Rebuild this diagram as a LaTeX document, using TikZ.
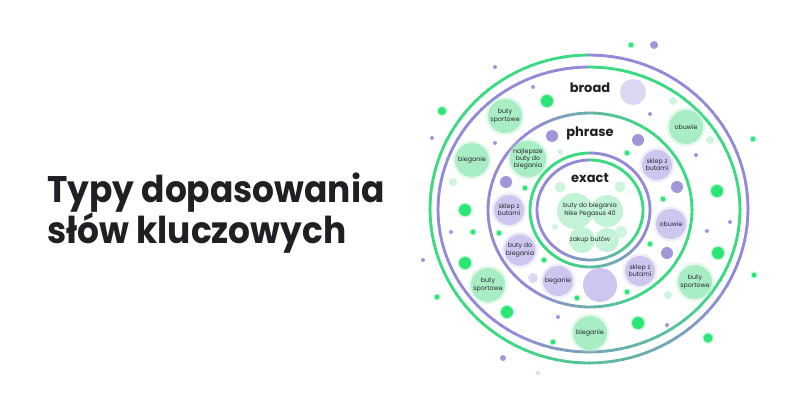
\documentclass[tikz,border=0pt]{standalone}
\usepackage{fontspec}
\setmainfont{Poppins}
\newfontfamily\ttlf[FakeStretch=0.93]{Poppins}
\definecolor{ringG}{HTML}{3ADB80}
\definecolor{ringP}{HTML}{9489D6}
\definecolor{gfill}{HTML}{A9EDC5}
\definecolor{pfill}{HTML}{CDC7EF}
\definecolor{gdotc}{HTML}{2BE574}
\definecolor{pdotc}{HTML}{A097DB}
\definecolor{pgc}{HTML}{CFF5DE}
\definecolor{ppc}{HTML}{DCD8F3}
\definecolor{txt}{HTML}{25252E}
\definecolor{ttl}{HTML}{1F2024}
\newcommand\pairring[6]{%
  \foreach \p in {0,3,...,357}{%
    \pgfmathtruncatemacro\w{max(0,min(100,(240-\p)/0.9))}%
    \ifnum#6=1 \pgfmathtruncatemacro\w{100-\w}\fi
    \pgfmathsetmacro\ra{-(\p+90)}%
    \pgfmathsetmacro\rb{-(\p+93.5)}%
    \draw[line width=#5, draw=ringG!\w!ringP]
      ({#1+#3*cos(\ra)},{#2+#4*sin(\ra)}) -- ({#1+#3*cos(\rb)},{#2+#4*sin(\rb)});
  }}
\newcommand\midring[5]{%
  \foreach \p in {0,3,...,357}{%
    \pgfmathtruncatemacro\w{max(0,min(100,50+90*cos(\p)))}%
    \pgfmathsetmacro\ra{-\p}%
    \pgfmathsetmacro\rb{-(\p+3.5)}%
    \draw[line width=#5, draw=ringG!\w!ringP]
      ({#1+#3*cos(\ra)},{#2+#4*sin(\ra)}) -- ({#1+#3*cos(\rb)},{#2+#4*sin(\rb)});
  }}
\tikzset{
  bub/.style={circle, inner sep=0pt, align=center, text=txt,
    font=\fontsize{6.3}{7.3}\selectfont},
  gbub/.style={bub, fill=gfill, minimum size=34pt,
    preaction={draw=gfill, line width=5pt, draw opacity=0.3}},
  pbub/.style={bub, fill=pfill, minimum size=30pt,
    preaction={draw=pfill, line width=5pt, draw opacity=0.3}},
  lbl/.style={font=\bfseries\fontsize{13}{14}\selectfont, text=ttl, inner sep=0pt},
  ttlfont/.style={font=\ttlf\bfseries\fontsize{37}{40}\selectfont, text=ttl, inner sep=0pt, anchor=base west},
  gdot/.style={fill=gdotc, preaction={draw=gdotc, line width=2.5pt, draw opacity=0.3}},
  pdot/.style={fill=pdotc},
  pgdot/.style={fill=pgc},
  ppdot/.style={fill=ppc},
}
\begin{document}
\begin{tikzpicture}[x=1pt,y=-1pt]
\useasboundingbox[fill=white] (0,0) rectangle (800,420);
% title
\node[ttlfont] (t1) at (47,202) {Typy dopasowania};
\node[ttlfont] (t2) at (47,243) {słów kluczowych};
% big decorative circles
\fill[ppc] (633,92) circle (13);
\fill[pfill] (600,285) circle (17);
% rings
\pairring{589}{209}{159}{154}{2.8pt}{0}
\pairring{589}{209.5}{151}{142.5}{2.8pt}{1}
\midring{590}{210}{102}{97}{2.8pt}
\pairring{590}{210}{60}{57}{2.8pt}{0}
\pairring{590}{210}{53}{50}{2.8pt}{1}
% small dots: bright green
\foreach \x/\y/\r in {547/101/6, 442/111/4, 465/210/6, 717/191/6, 465/263/6, 718/253/6, 507/312/6, 638/323/6, 708/338/4.5}
  \fill[gdot] (\x,\y) circle (\r);
\foreach \x/\y in {631/45, 753/139, 473/232, 754/275, 437/297, 553/342, 627/153, 525/188, 663/199, 499/233, 650/244, 544/260, 577/298, 627/292}
  \fill[gdot] (\x,\y) circle (2.3);
% pale green
\foreach \x/\y/\r in {673/101/4, 710/140/4, 453/182/4, 668/295/4, 560/152/2.5, 560/187/5.5, 620/187/5.5, 621/232/6, 555/227/3}
  \fill[pgdot] (\x,\y) circle (\r);
% purple dots
\foreach \x/\y/\r in {552/136/6, 638/140/6, 506/182/6, 677/187/6, 667/253/6, 654/45/4, 503/358/3}
  \fill[pdot] (\x,\y) circle (\r);
\foreach \x/\y in {650/114, 533/87, 495/67, 432/138, 696/155, 730/222, 707/231, 451/232, 423/260, 667/325, 558/317, 495/143}
  \fill[pdot] (\x,\y) circle (2);
\fill[ppdot] (533,278) circle (5);
\fill[ppdot] (538,373) circle (2);
% broad bubbles
\node[gbub] (b1) at (505,116) {buty\\sportowe};
\node[gbub] (b2) at (472,160) {bieganie};
\node[gbub] (b3) at (686,127) {obuwie};
\node[gbub] (b4) at (488,285) {buty\\sportowe};
\node[gbub] (b5) at (695,282) {buty\\sportowe};
\node[gbub] (b6) at (590,333) {bieganie};
% phrase bubbles
\node[gbub, minimum size=33pt] (p1) at (528,159) {najlepsze\\buty do\\biegania};
\node[pbub] (p2) at (657,165) {sklep z\\butami};
\node[pbub] (p3) at (509,210) {sklep z\\butami};
\node[pbub] (p4) at (671,224) {obuwie};
\node[pbub] (p5) at (520,250) {buty do\\biegania};
\node[pbub] (p6) at (640,271) {sklep z\\butami};
\node[pbub] (p7) at (558,281) {beganie};
% exact bubbles
\fill[gfill!70!white] (575,211) circle (18);
\fill[gfill!70!white] (607,211) circle (16);
\fill[gfill!70!white] (582,240) circle (13);
\fill[gfill!70!white] (607,240) circle (12);
\node[bub] (e1) at (590,210) {buty do biegania\\Nike Pegasus 40};
\node[bub] (e2) at (590,240) {zakup butów};
% ring labels
\node[lbl] (lb) at (590,88) {broad};
\node[lbl] (lp) at (590,133) {phrase};
\node[lbl] (le) at (590,178) {exact};
\end{tikzpicture}
\end{document}
